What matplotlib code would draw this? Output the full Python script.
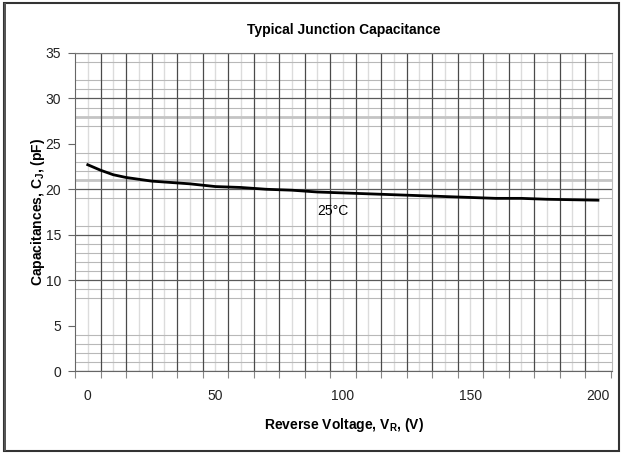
import matplotlib.pyplot as plt
import matplotlib as mpl
import numpy as np

plt.rc('font', family='Liberation Sans', size=10)
mpl.rcParams['mathtext.fontset'] = 'custom'
mpl.rcParams['mathtext.bf'] = 'Liberation Sans:bold'
mpl.rcParams['mathtext.rm'] = 'Liberation Sans:bold'

# reverse voltage (V) and junction capacitance (pF)
vr = [0, 5, 10, 15, 20, 25, 30, 40, 50, 60, 70, 80, 90, 100,
      110, 120, 130, 140, 150, 160, 170, 180, 190, 200]
cj = [22.7, 22.1, 21.6, 21.3, 21.1, 20.9, 20.8, 20.6, 20.3, 20.2, 20.0, 19.9, 19.7, 19.6,
      19.5, 19.4, 19.3, 19.2, 19.1, 19.0, 19.0, 18.9, 18.85, 18.8]
xticks = [0, 50, 100, 150, 200]
yticks = [0, 5, 10, 15, 20, 25, 30, 35]

# the scanned grid is irregular: some horizontal lines are missing
hgrid_major = [0, 10, 15, 20, 30, 35]
hgrid_minor = [1, 2, 3, 4, 8, 9, 11, 12, 13, 14, 16, 19, 22, 23, 24, 27, 29, 31, 32, 34]
hgrid_thick = [21, 28]

fig = plt.figure(figsize=(6.23, 4.54), dpi=100)
ax = fig.add_axes([0.1204, 0.1828, 0.8619, 0.7005])

# outer frame of the picture
fig.patches.append(mpl.patches.Rectangle((0.006, 0.006), 0.988, 0.988, transform=fig.transFigure,
                                         fill=False, lw=1.5, ec='#333333'))
fig.patches.append(mpl.patches.Rectangle((0.006, 0.006), 0.004, 0.988, transform=fig.transFigure,
                                         fill=True, lw=0, fc='#555555'))

ax.set_xlim(-5, 205.5)
ax.set_ylim(0, 35)

# grid
ax.vlines(np.arange(0, 201, 10), 0, 35, colors='#dcdcdc', lw=1, zorder=0)
ax.hlines(hgrid_minor, -5, 205.5, colors='#b8b8b8', lw=0.8, zorder=0.5)
ax.hlines(hgrid_thick, -5, 205.5, colors='#c4c4c4', lw=2, zorder=0.5)
ax.vlines(np.arange(5, 200, 10), 0, 35, colors='#4a4a4a', lw=0.9, zorder=1)
ax.hlines(hgrid_major, -5, 205.5, colors='#5a5a5a', lw=0.9, zorder=1)

ax.set_xticks(xticks)
ax.set_xticks(np.arange(-5, 206, 10), minor=True)
ax.set_yticks(yticks)

ax.tick_params(axis='x', which='major', length=0, pad=13, colors='#222222')
ax.tick_params(axis='x', which='minor', length=5, width=0.8, color='#888888')
ax.tick_params(axis='y', which='major', length=5, width=0.8, pad=5, labelcolor='#222222', color='#666666')

ax.spines['left'].set_color('#666666')
ax.spines['bottom'].set_color('#666666')
ax.spines['top'].set_color('#777777')
ax.spines['right'].set_color('#bbbbbb')

ax.plot(vr, cj, color='black', lw=2, zorder=3)
ax.text(90, 17.6, '25\u00b0C', fontsize=10, ha='left', va='center', zorder=3)

ax.set_title('Typical Junction Capacitance', fontsize=10, fontweight='bold', pad=14)
ax.set_xlabel(r'Reverse Voltage, V$_\mathbf{R}$, (V)', fontsize=10, fontweight='bold', labelpad=9)
ax.set_ylabel(r'Capacitances, C$_\mathbf{J}$, (pF)', fontsize=10, fontweight='bold', labelpad=-1)

plt.savefig('out.png', dpi=100)
